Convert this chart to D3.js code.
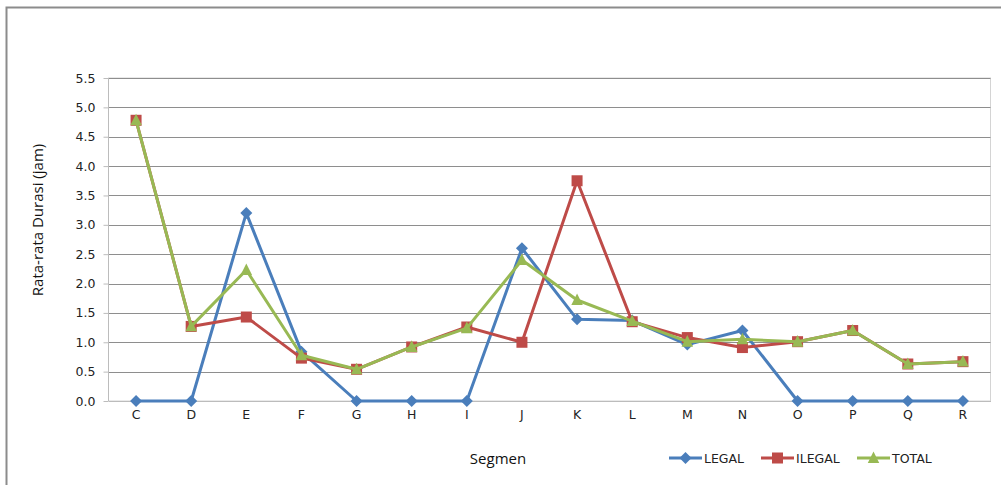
<!DOCTYPE html>
<html>
<head>
<meta charset="utf-8">
<script src="https://cdn.jsdelivr.net/npm/d3@7"></script>
<style>
  html, body { margin: 0; padding: 0; background: #fff; }
  svg { display: block; }
</style>
</head>
<body>
<svg id="chart" width="1001" height="485"></svg>
<script>
// Segments on the x axis
const categories = ["C","D","E","F","G","H","I","J","K","L","M","N","O","P","Q","R"];
// Mean duration (hours) per segment
const legal  = [0, 0, 3.20, 0.84, 0, 0, 0, 2.60, 1.39, 1.37, 0.96, 1.20, 0, 0, 0, 0];
const ilegal = [4.78, 1.27, 1.43, 0.73, 0.54, 0.92, 1.26, 1.00, 3.75, 1.35, 1.08, 0.91, 1.01, 1.20, 0.63, 0.67];
const total  = [4.78, 1.27, 2.23, 0.78, 0.54, 0.92, 1.24, 2.40, 1.72, 1.36, 1.01, 1.05, 1.01, 1.20, 0.63, 0.67];
const yTicks = [0, 0.5, 1.0, 1.5, 2.0, 2.5, 3.0, 3.5, 4.0, 4.5, 5.0, 5.5];

const series = [
  { name: "LEGAL",  values: legal,  color: "#4A7EBB", symbol: "diamond" },
  { name: "ILEGAL", values: ilegal, color: "#BE4B48", symbol: "square" },
  { name: "TOTAL",  values: total,  color: "#98B954", symbol: "triangle" }
];

const svg = d3.select("#chart");
const tickFont = "'DejaVu Sans', Verdana, sans-serif";
const titleFont = "'Open Sans', 'Noto Sans', sans-serif";

// outer frame
svg.append("path")
  .attr("d", "M6.5,485 V7.5 H1001")
  .attr("fill", "none").attr("stroke", "#8c8c8c").attr("stroke-width", 2);

const plot = { left: 108.5, right: 990.5, top: 78, bottom: 401 };

const x = d3.scaleBand().domain(categories).range([plot.left, plot.right]);
const y = d3.scaleLinear().domain([0, 5.5]).range([plot.bottom, plot.top]);

// plot area border
svg.append("rect")
  .attr("x", plot.left).attr("y", plot.top)
  .attr("width", plot.right - plot.left).attr("height", plot.bottom - plot.top)
  .attr("fill", "none").attr("stroke", "#d4d4d4").attr("stroke-width", 1);

// horizontal gridlines
svg.append("g")
  .selectAll("line")
  .data(yTicks.filter(d => d > 0))
  .join("line")
  .attr("x1", plot.left).attr("x2", plot.right)
  .attr("y1", d => Math.round(y(d)) + 0.5).attr("y2", d => Math.round(y(d)) + 0.5)
  .attr("stroke", "#8e8e8e").attr("stroke-width", 1);

// y axis
const yAxis = svg.append("g")
  .attr("transform", `translate(${plot.left},0)`)
  .call(d3.axisLeft(y).tickValues(yTicks).tickFormat(d3.format(".1f")).tickSize(5).tickPadding(8));
yAxis.select(".domain").attr("stroke", "#bcbcbc").attr("d", `M-0,${plot.top}V${plot.bottom}`);
yAxis.selectAll(".tick line").attr("stroke", "#bcbcbc");
yAxis.selectAll(".tick text")
  .attr("font-family", tickFont).attr("font-size", 12.5).attr("fill", "#222");

// x axis
const xAxis = svg.append("g")
  .attr("transform", `translate(0,${plot.bottom})`)
  .call(d3.axisBottom(x).tickSize(0).tickPadding(9));
xAxis.select(".domain").attr("stroke", "#bcbcbc");
xAxis.selectAll(".tick text")
  .attr("font-family", tickFont).attr("font-size", 12.5).attr("fill", "#222");

// axis titles
svg.append("text")
  .attr("transform", "translate(43,220) rotate(-90)")
  .attr("text-anchor", "middle")
  .attr("font-family", titleFont).attr("font-size", 15).attr("fill", "#111")
  .text("Rata-rata Durasi (jam)");
svg.append("text")
  .attr("x", 498).attr("y", 464)
  .attr("text-anchor", "middle")
  .attr("font-family", titleFont).attr("font-size", 15).attr("fill", "#111")
  .text("Segmen");

const cx = d => x(d) + x.bandwidth() / 2;

// draws one series marker centred on the current group
function marker(sel, s, size) {
  const r = size / 2;
  if (s.symbol === "diamond") {
    return sel.append("path").attr("d", `M0,${-r}L${r},0L0,${r}L${-r},0Z`).attr("fill", s.color);
  }
  if (s.symbol === "square") {
    return sel.append("rect").attr("x", -r).attr("y", -r).attr("width", size).attr("height", size).attr("fill", s.color);
  }
  const h = size, w = size * 1.05;
  return sel.append("path").attr("d", `M0,${-h * 0.6}L${w / 2},${h * 0.45}L${-w / 2},${h * 0.45}Z`).attr("fill", s.color);
}

const line = d3.line().x(d => cx(d.c)).y(d => y(d.v));

series.forEach(s => {
  const pts = categories.map((c, i) => ({ c, v: s.values[i] }));
  const g = svg.append("g");
  g.append("path")
    .datum(pts)
    .attr("d", line)
    .attr("fill", "none").attr("stroke", s.color).attr("stroke-width", 3)
    .attr("stroke-linejoin", "round");
  pts.forEach(p => {
    const m = g.append("g").attr("transform", `translate(${cx(p.c)},${y(p.v)})`);
    marker(m, s, s.symbol === "diamond" ? 12 : 11);
  });
});

// legend
const legendItems = [
  { s: series[0], x0: 669 },
  { s: series[1], x0: 761 },
  { s: series[2], x0: 857 }
];
legendItems.forEach(({ s, x0 }) => {
  const g = svg.append("g").attr("transform", `translate(${x0},458)`);
  g.append("line").attr("x1", 0).attr("x2", 33).attr("y1", 0).attr("y2", 0)
    .attr("stroke", s.color).attr("stroke-width", 3);
  const m = g.append("g").attr("transform", "translate(16.5,0)");
  marker(m, s, s.symbol === "diamond" ? 12 : 11);
  g.append("text").attr("x", 35).attr("y", 4.5)
    .attr("font-family", tickFont).attr("font-size", 12.5).attr("fill", "#222")
    .text(s.name);
});
</script>
</body>
</html>
